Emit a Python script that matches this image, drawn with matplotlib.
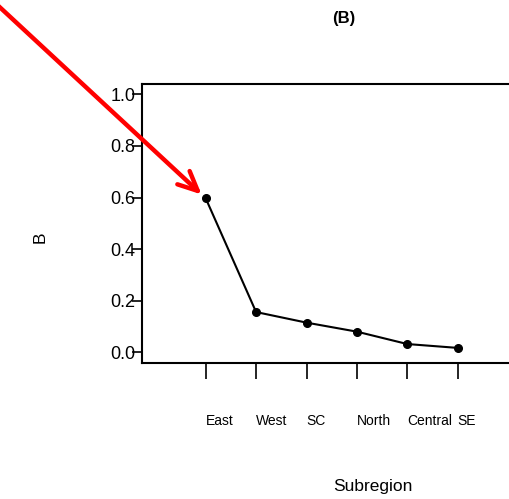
import matplotlib
matplotlib.use('Agg')
import matplotlib.pyplot as plt

plt.rcParams['font.family'] = ['Liberation Sans', 'DejaVu Sans']

subregions = ['East', 'West', 'SC', 'North', 'Central', 'SE']
pos = [1, 2, 3, 4, 5, 6]
B = [0.597, 0.156, 0.115, 0.080, 0.032, 0.017]
yticks = [0.0, 0.2, 0.4, 0.6, 0.8, 1.0]
yticklabels = ['0.0', '0.2', '0.4', '0.6', '0.8', '1.0']

W, H = 510, 499
fig = plt.figure(figsize=(W/100, H/100), dpi=100)

def fx(px):
	return px/W

def fy(py):
	return 1-py/H

ax = fig.add_axes([fx(142), fy(363), fx(540)-fx(142), fy(84)-fy(363)])
ax.plot(pos, B, color='black', lw=1.5, marker='o', ms=5.5, mec='black', mfc='black')
ax.set_xlim(1-63.7/50.4, 1+(540-205.7)/50.4)
ax.set_ylim(-0.0415, 1.04)

ax.set_yticks(yticks)
ax.set_yticklabels(yticklabels)
ax.tick_params(axis='y', length=7.2, width=1.2, pad=-2.6, labelsize=13)
ax.set_xticks(pos)
ax.set_xticklabels(subregions, ha='left')
ax.tick_params(axis='x', length=11.5, width=1.2, pad=25, labelsize=10)
for sp in ['left', 'top', 'bottom']:
	ax.spines[sp].set_linewidth(1.5)
ax.spines['right'].set_visible(False)

fig.text(fx(344), fy(18), '(B)', ha='center', va='center', fontsize=12, fontweight='bold')
fig.text(fx(40), fy(237), 'B', ha='center', va='center', rotation=90, fontsize=12.5)
fig.text(fx(373), fy(486), 'Subregion', ha='center', va='center', fontsize=12.5)

ax.annotate('', xy=(pos[0], B[0]), xycoords='data',
			xytext=(fx(-8), fy(0)), textcoords='figure fraction',
			arrowprops=dict(arrowstyle='->,head_length=1.4,head_width=0.65', color='red',
							lw=3.2, shrinkA=0, shrinkB=4),
			annotation_clip=False)

fig.savefig('out.png', dpi=100)
